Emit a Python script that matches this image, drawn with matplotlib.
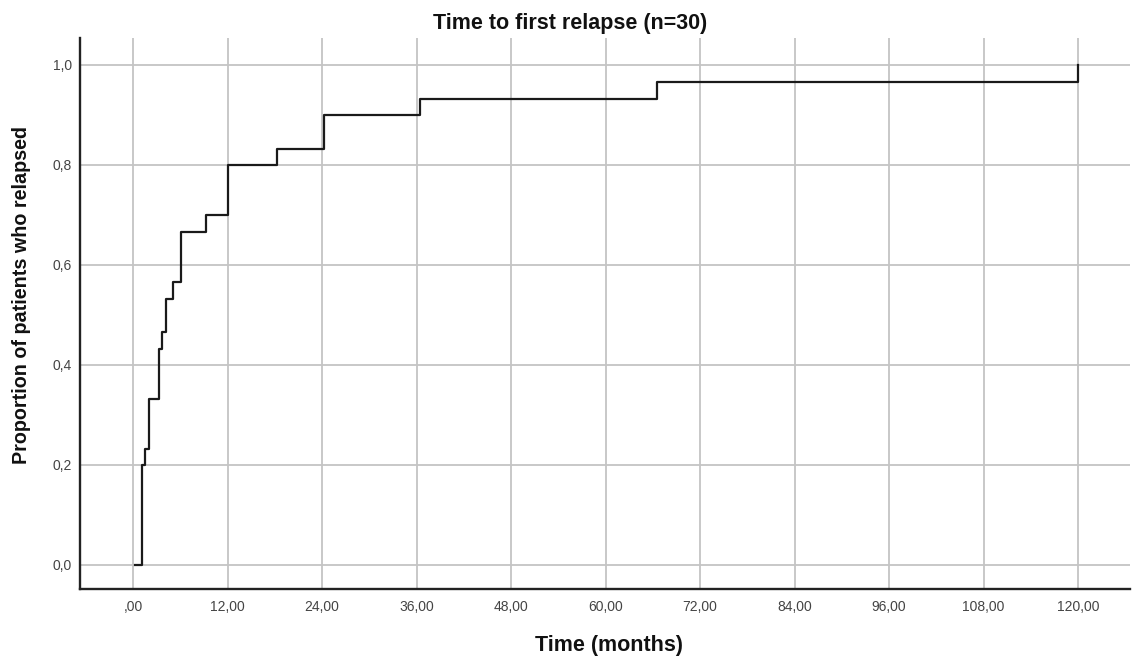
import numpy as np
import matplotlib
matplotlib.use("Agg")
import matplotlib.pyplot as plt
from matplotlib.ticker import FuncFormatter

plt.rcParams['font.family'] = ['Liberation Sans', 'DejaVu Sans']

# données (temps en mois, proportion cumulée de rechutes)
times = [0.25, 1.1, 1.5, 2.0, 3.3, 3.7, 4.2, 5.1, 6.1, 9.3, 12.1, 18.3, 24.25, 36.4, 66.6, 120.0]
props = [0.0, 0.2, 0.233, 0.333, 0.433, 0.467, 0.533, 0.567, 0.667, 0.70, 0.80, 0.833, 0.90, 0.933, 0.967, 1.0]

x_ticks = [0, 12, 24, 36, 48, 60, 72, 84, 96, 108, 120]
y_ticks = [0.0, 0.2, 0.4, 0.6, 0.8, 1.0]

W, H = 1132, 658
fig = plt.figure(figsize=(W / 100, H / 100), dpi=100)
ax = fig.add_axes([80 / W, 69 / H, 1050 / W, 551 / H])

ax.step(times, props, where='post', color='#1a1a1a', linewidth=1.6, zorder=3)

ax.set_xlim(-6.73, 126.6)
ax.set_ylim(-0.048, 1.054)
ax.set_xticks(x_ticks)
ax.set_yticks(y_ticks)

# format SPSS : virgule décimale
def fmt_x(v, pos):
    s = "{:.2f}".format(v).replace('.', ',')
    return s[1:] if s.startswith('0,') else s

def fmt_y(v, pos):
    return "{:.1f}".format(v).replace('.', ',')

ax.xaxis.set_major_formatter(FuncFormatter(fmt_x))
ax.yaxis.set_major_formatter(FuncFormatter(fmt_y))
ax.tick_params(length=0, labelsize=10, labelcolor='#444444')
ax.tick_params(axis='x', pad=8)
ax.tick_params(axis='y', pad=6)

ax.grid(True, color='#c4c4c4', linewidth=1.3)
ax.set_axisbelow(True)
for side in ['top', 'right']:
    ax.spines[side].set_visible(False)
for side in ['left', 'bottom']:
    ax.spines[side].set_linewidth(1.7)
    ax.spines[side].set_color('#222222')

fig.text(570 / W, 1 - 23 / H, 'Time to first relapse (n=30)', ha='center', va='center',
         fontsize=15.5, fontweight='bold', color='#111111')
fig.text(609 / W, 1 - 645 / H, 'Time (months)', ha='center', va='center',
         fontsize=15.5, fontweight='bold', color='#111111')
fig.text(22 / W, 1 - 295 / H, 'Proportion of patients who relapsed', ha='center', va='center',
         rotation=90, fontsize=14.2, fontweight='bold', color='#111111')

fig.savefig('out.png', dpi=100, facecolor='white')
